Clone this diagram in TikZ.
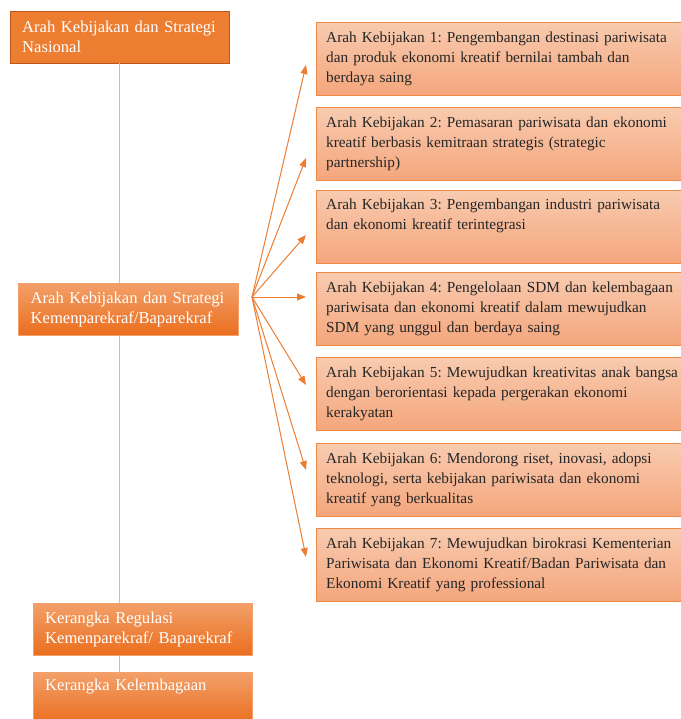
\documentclass[tikz,border=0pt]{standalone}
\usepackage{fontspec}
\setmainfont{Liberation Serif}
\usetikzlibrary{positioning,arrows.meta}
\frenchspacing

\definecolor{darkorange}{HTML}{ED7D31}
\definecolor{orangetop}{HTML}{F3A06A}
\definecolor{orangebot}{HTML}{EA6E1E}
\definecolor{salmontop}{HTML}{F8CBB0}
\definecolor{salmonbot}{HTML}{F4A67C}
\definecolor{lineorange}{HTML}{F4B183}

\begin{document}
\begin{tikzpicture}[x=1pt,y=-1pt,
    leftbox/.style={rectangle,draw=orangebot!80!black,anchor=north west,align=left,
        text=white,inner xsep=12pt,inner ysep=0pt,minimum height=52pt,
        font=\fontsize{16.6}{20}\selectfont},
    gradbox/.style={leftbox,draw=orangetop,top color=orangetop,bottom color=orangebot,
        minimum width=219pt,text width=195pt},
    kbbox/.style={rectangle,draw=darkorange!90,top color=salmontop,bottom color=salmonbot,
        anchor=north west,align=left,inner xsep=10pt,inner ysep=0pt,
        minimum width=366pt,minimum height=73pt,text width=400pt,text=black!85,
        font=\fontsize{15.3}{20}\selectfont},
    arrow/.style={-{Triangle[length=9pt,width=7pt]},darkorange,line width=1pt}]

    \useasboundingbox (0,0) rectangle (680,719);

    % Left column
    \node[leftbox,fill=darkorange,minimum width=219pt,text width=195pt] (nasional) at (10,11)
        {\mbox{Arah Kebijakan dan Strategi}\\Nasional};
    \node[gradbox] (regulasi) at (33,603) {Kerangka Regulasi\\\mbox{Kemenparekraf/ Baparekraf}};
    \node[gradbox] (lembaga) at (33,672) {Kerangka Kelembagaan\\\strut};

    % Spine behind the boxes
    \draw[lineorange,line width=1pt] (nasional.south) -- (nasional.south |- regulasi.north);
    \draw[lineorange,line width=1pt] (regulasi.south -| nasional.south) -- (lembaga.north -| nasional.south);

    \node[gradbox,minimum width=220pt] (kemen) at (18,283)
        {\mbox{Arah Kebijakan dan Strategi}\\\mbox{Kemenparekraf/Baparekraf}};

    % Policy directions
    \node[kbbox] (kb1) at (316,22) {Arah Kebijakan 1: Pengembangan destinasi pariwisata\\dan produk ekonomi kreatif bernilai tambah dan\\berdaya saing};
    \node[kbbox] (kb2) at (316,107) {Arah Kebijakan 2: Pemasaran pariwisata dan ekonomi\\kreatif berbasis kemitraan strategis (strategic\\partnership)};
    \node[kbbox] (kb3) at (316,190) {Arah Kebijakan 3: Pengembangan industri pariwisata\\dan ekonomi kreatif terintegrasi\\\strut};
    \node[kbbox] (kb4) at (316,272) {Arah Kebijakan 4: Pengelolaan SDM dan kelembagaan\\pariwisata dan ekonomi kreatif dalam mewujudkan\\SDM yang unggul dan berdaya saing};
    \node[kbbox] (kb5) at (316,357) {Arah Kebijakan 5: Mewujudkan kreativitas anak bangsa\\dengan berorientasi kepada pergerakan ekonomi\\kerakyatan};
    \node[kbbox] (kb6) at (316,443) {Arah Kebijakan 6: Mendorong riset, inovasi, adopsi\\teknologi, serta kebijakan pariwisata dan ekonomi\\kreatif yang berkualitas};
    \node[kbbox] (kb7) at (316,528) {Arah Kebijakan 7: Mewujudkan birokrasi Kementerian\\Pariwisata dan Ekonomi Kreatif/Badan Pariwisata dan\\Ekonomi Kreatif yang professional};

    % Fan of arrows
    \coordinate (hub) at (252,297);
    \foreach \i/\y in {1/65,2/158,3/235,4/297,5/385,6/470,7/557} {
        \coordinate (tip\i) at (306,\y);
        \draw[arrow] (hub) -- (tip\i);
    }
\end{tikzpicture}
\end{document}
